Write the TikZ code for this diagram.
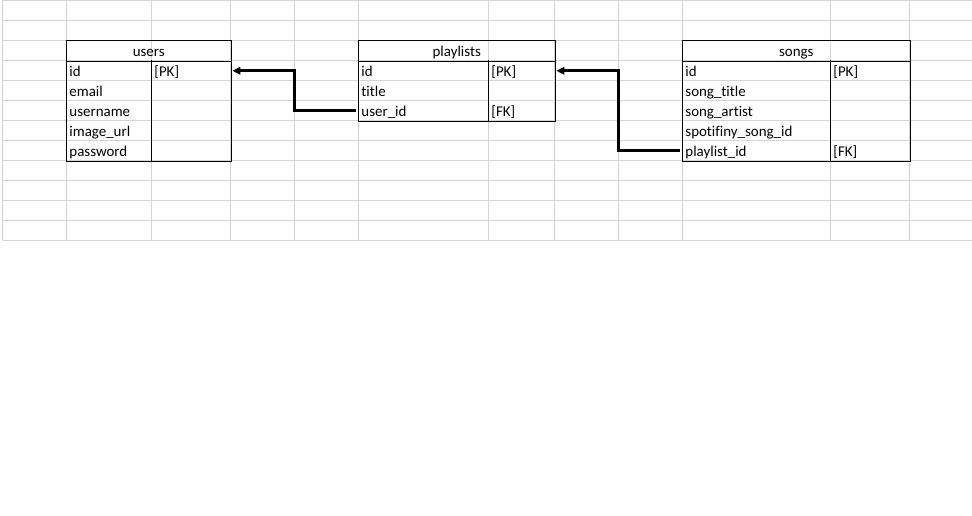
\documentclass[tikz,border=0pt]{standalone}
\usepackage{fontspec}
\setmainfont{Carlito}[Ligatures={NoCommon, NoContextual, NoRare}]
\usetikzlibrary{arrows.meta, calc}
\tikzset{
  x=0.75pt, y=-0.75pt,
  gridline/.style={draw=black!17, line width=0.75pt},
  cell/.style={anchor=north west, inner xsep=2pt, inner ysep=0pt,
    text width=#1, text height=12pt, text depth=3pt,
    font=\fontsize{11.2pt}{13pt}\selectfont},
  head/.style={cell=#1, align=center},
  tableline/.style={draw=black, line width=0.75pt},
  fklink/.style={line width=2.25pt, -{Triangle[length=6pt, width=5.5pt]},
    shorten <=1.9pt, shorten >=1pt}
}

\begin{document}
\begin{tikzpicture}
        \useasboundingbox (0,0) rectangle (972,516);
        \fill[white] (0,0) rectangle (972,516);

        % Sheet grid
        \foreach \gx in {2.5,66.5,151.5,230.5,294.5,358.5,488.5,554.5,618.5,682.5,830.5,909.5}
            \draw[gridline] (\gx,0) -- (\gx,240.5);
        \foreach \gy in {0.5,20.5,...,240.5}
            \draw[gridline] (2.5,\gy) -- (972,\gy);

        % users
        \node[head=119pt] (users-h) at (66.5,40.5) {users};
        \foreach \field/\key [count=\i] in {id/{[PK]}, email/{}, username/{}, image\_url/{}, password/{}} {
            \node[cell=59.75pt] (users-\i) at (66.5,40.5+20*\i) {\field};
            \node[cell=55.25pt] (users-\i-key) at (151.5,40.5+20*\i) {\key};
        }
        \draw[tableline] (users-h.north west) rectangle (users-5-key.south east);
        \draw[tableline] (users-h.south west) -- (users-h.south east);
        \draw[tableline] (users-1-key.north west) -- (users-5-key.south west);

        % playlists
        \node[head=143pt] (playlists-h) at (358.5,40.5) {playlists};
        \foreach \field/\key [count=\i] in {id/{[PK]}, title/{}, user\_id/{[FK]}} {
            \node[cell=93.5pt] (playlists-\i) at (358.5,40.5+20*\i) {\field};
            \node[cell=45.5pt] (playlists-\i-key) at (488.5,40.5+20*\i) {\key};
        }
        \draw[tableline] (playlists-h.north west) rectangle (playlists-3-key.south east);
        \draw[tableline] (playlists-h.south west) -- (playlists-h.south east);
        \draw[tableline] (playlists-1-key.north west) -- (playlists-3-key.south west);

        % songs
        \node[head=166.25pt] (songs-h) at (682.5,40.5) {songs};
        \foreach \field/\key [count=\i] in {id/{[PK]}, song\_title/{}, song\_artist/{}, spotifiny\_song\_id/{}, playlist\_id/{[FK]}} {
            \node[cell=107pt] (songs-\i) at (682.5,40.5+20*\i) {\field};
            \node[cell=55.25pt] (songs-\i-key) at (830.5,40.5+20*\i) {\key};
        }
        \draw[tableline] (songs-h.north west) rectangle (songs-5-key.south east);
        \draw[tableline] (songs-h.south west) -- (songs-h.south east);
        \draw[tableline] (songs-1-key.north west) -- (songs-5-key.south west);

        % Foreign keys
        \draw[fklink] (playlists-3.west) -| ($(playlists-3.west)!0.5!(users-1-key.east)$) |- (users-1-key.east);
        \draw[fklink] (songs-5.west) -| ($(songs-5.west)!0.5!(playlists-1-key.east)$) |- (playlists-1-key.east);
    \end{tikzpicture}
\end{document}
